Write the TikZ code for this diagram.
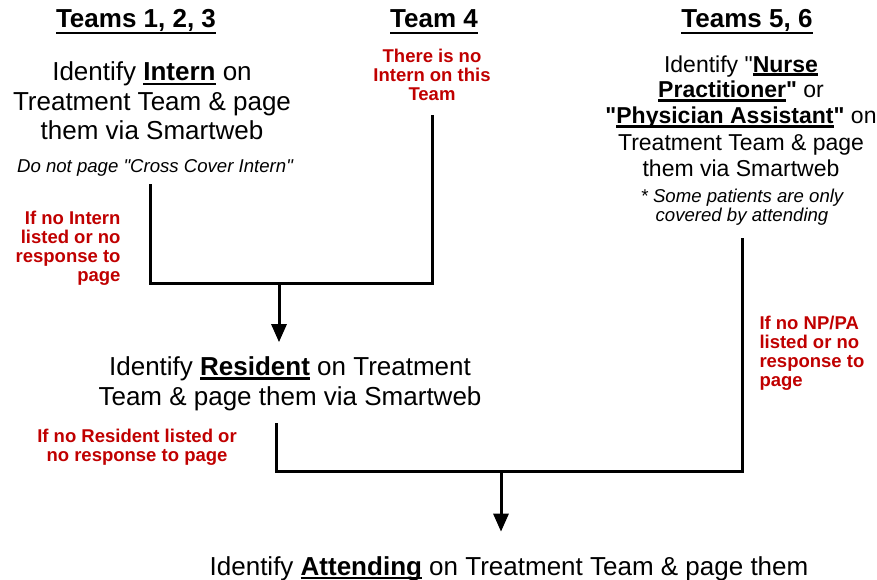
\documentclass[tikz,border=0pt]{standalone}
\usepackage{fontspec}
\setmainfont{Liberation Sans}[Ligatures=TeXOff]
\usetikzlibrary{arrows.meta}
\definecolor{red}{HTML}{c00000}
\newsavebox{\undlbox}
\newcommand\undl[2][-0.16em]{\sbox\undlbox{#2}\rlap{\rule[#1]{\wd\undlbox}{0.1em}}\usebox\undlbox}

\begin{document}
\begin{tikzpicture}[x=1pt,y=-1pt,
  every node/.style={inner sep=0,anchor=base,align=center},
  head/.style={font=\fontsize{26}{29}\selectfont\bfseries},
  big/.style={font=\fontsize{26}{29.5}\selectfont},
  mid/.style={font=\fontsize{23}{26}\selectfont},
  hint/.style={font=\fontsize{18.6}{17}\selectfont\itshape},
  warn/.style={color=red,font=\fontsize{18.5}{19}\selectfont\bfseries},
  every path/.style={line width=3pt},
  tip/.style={-{Triangle[width=15pt,length=18pt]}}]
  \useasboundingbox (0,0) rectangle (877,580);

  % team headings
  \node[head] (t123) at (136,28) {\undl[-0.25em]{Teams 1, 2, 3}};
  \node[head] (t4) at (434,28) {\undl[-0.25em]{Team 4}};
  \node[head] (t56) at (747,28) {\undl[-0.25em]{Teams 5, 6}};

  % first step (multi-line nodes sit on their last baseline)
  \node[big] (intern) at (152,140) {Identify \undl{\textbf{Intern}} on\\Treatment Team \& page\\them via Smartweb};
  \node[hint] (intnote) at (155,172) {Do not page "Cross Cover Intern"};
  \node[warn] (t4note) at (432,101) {There is no\\Intern on this\\Team};
  \node[mid] (np) at (741,176) {Identify "\undl{\textbf{Nurse}}\\\undl{\textbf{Practitioner}}\textbf{"} or\\\textbf{"}\undl{\textbf{Physician Assistant}}\textbf{"} on\\Treatment Team \& page\\them via Smartweb};
  \node[hint] (npnote) at (742,221) {* Some patients are only\\covered by attending};
  \node[warn,align=right,anchor=base east] (inred) at (122,281) {If no Intern\\listed or no\\response to\\page};

  % second step
  \node[big] (res) at (290,405) {Identify \undl{\textbf{Resident}} on Treatment\\Team \& page them via Smartweb};
  \node[warn] (resred) at (137,461) {If no Resident listed or\\no response to page};
  \node[warn,align=left,anchor=base west] (npred) at (758,386) {If no NP/PA\\listed or no\\response to\\page};

  % last step
  \node[big] (att) at (509,575) {Identify \undl{\textbf{Attending}} on Treatment Team \& page them};

  \coordinate (m1) at (279,283);
  \coordinate (m2) at (501,471);

  \draw (intnote.south) ++(-5,7) |- (m1) -| ([yshift=-12pt]t4note.south);
  \draw[tip,shorten >=13pt] (m1) -- (m1 |- res.north);
  \draw (res.south) ++(-14,11.5) |- (m2) -| ([yshift=-12pt]npnote.south);
  \draw[tip,shorten >=23pt] (m2) -- (m2 |- att.north);

\end{tikzpicture}
\end{document}
